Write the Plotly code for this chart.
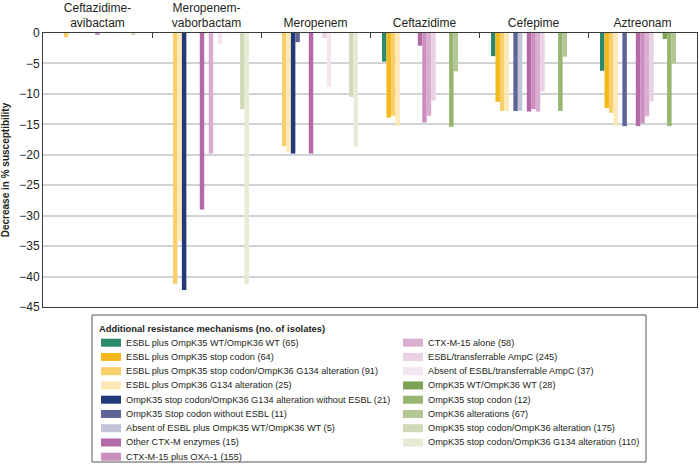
import plotly.graph_objects as go

# antibiotics along the top axis
antibiotics = ["Ceftazidime-<br>avibactam", "Meropenem-<br>vaborbactam", "Meropenem",
               "Ceftazidime", "Cefepime", "Aztreonam"]

# decrease in % susceptibility, one list per mechanism (antibiotic order as above)
esbl_wt = [0, 0, 0, -4.7, -3.8, -6.2]
esbl_k35_stop = [0, 0, 0, -13.9, -11.3, -12.3]
esbl_k35_stop_g134 = [-0.7, -41.2, -18.6, -13.6, -12.8, -13.1]
esbl_k36_g134 = [0, -34.2, -19.6, -15.3, -12.8, -15.3]
k35_stop_g134_no_esbl = [0, -42.2, -19.8, 0, 0, 0]
k35_stop_no_esbl = [0, 0, -1.5, 0, -12.8, -15.3]
no_esbl_wt = [0, 0, 0, 0, -12.8, 0]
other_ctxm = [0, -29.0, -19.8, -2.1, -12.9, -15.3]
ctxm15_oxa1 = [-0.2, 0, 0, -14.7, -12.5, -14.8]
ctxm15_alone = [0, -19.8, 0, -13.6, -12.9, -13.7]
esbl_ampc = [0, 0, -0.8, -11.1, -9.6, -11.2]
no_esbl_ampc = [0, -1.8, -8.8, 0, 0, 0]
k35_wt_k36_wt = [0, 0, 0, 0, 0, -1.0]
k35_stop = [0, 0, 0, -15.4, -12.8, -15.3]
k36_alt = [0, 0, 0, -6.3, -3.9, -5.0]
k35_stop_k36_alt = [-0.3, -12.5, -10.5, 0, 0, 0]
k35_stop_k36_g134 = [0, -41.3, -18.6, 0, 0, 0]

names = [
    "ESBL plus OmpK35 WT/OmpK36 WT (65)",
    "ESBL plus OmpK35 stop codon (64)",
    "ESBL plus OmpK35 stop codon/OmpK36 G134 alteration (91)",
    "ESBL plus OmpK36 G134 alteration (25)",
    "OmpK35 stop codon/OmpK36 G134 alteration without ESBL (21)",
    "OmpK35 Stop codon without ESBL (11)",
    "Absent of ESBL plus OmpK35 WT/OmpK36 WT (5)",
    "Other CTX-M enzymes (15)",
    "CTX-M-15 plus OXA-1 (155)",
    "CTX-M-15 alone (58)",
    "ESBL/transferrable AmpC (245)",
    "Absent of ESBL/transferrable AmpC (37)",
    "OmpK35 WT/OmpK36 WT (28)",
    "OmpK35 stop codon (12)",
    "OmpK36 alterations (67)",
    "OmpK35 stop codon/OmpK36 alteration (175)",
    "OmpK35 stop codon/OmpK36 G134 alteration (110)",
]
colors = ["#2b8a6c", "#f2b81c", "#f9cf6b", "#fde8b8", "#233a7a", "#5c6596", "#c2c5da",
          "#b46aa6", "#cc8dbf", "#d9aed0", "#ead0e3", "#f4e6f0",
          "#7fa356", "#97b56f", "#b3c694", "#d1dab8", "#e6ebd6"]
values = [esbl_wt, esbl_k35_stop, esbl_k35_stop_g134, esbl_k36_g134, k35_stop_g134_no_esbl,
          k35_stop_no_esbl, no_esbl_wt, other_ctxm, ctxm15_oxa1, ctxm15_alone, esbl_ampc,
          no_esbl_ampc, k35_wt_k36_wt, k35_stop, k36_alt, k35_stop_k36_alt, k35_stop_k36_g134]

FONT = "Liberation Sans, Arial, sans-serif"

fig = go.Figure()
for i, (name, color, vals) in enumerate(zip(names, colors, values)):
    # empty slot between the three families of mechanisms
    if i in (7, 12):
        fig.add_bar(x=antibiotics, y=[0] * len(antibiotics), marker_color="rgba(0,0,0,0)",
                    showlegend=False, hoverinfo="skip")
    fig.add_bar(x=antibiotics, y=vals, name=name, marker_color=color,
                marker_line_width=0, showlegend=False)

fig.update_layout(width=700, height=472, barmode="group", bargap=0.22, bargroupgap=0,
                  margin=dict(l=43, r=3, t=33, b=165),
                  plot_bgcolor="white", paper_bgcolor="white",
                  font=dict(family=FONT, size=12, color="#231f20"))
fig.update_xaxes(side="top", showline=True, linecolor="#3a3a3a", linewidth=1, mirror=True,
                 ticks="inside", tickson="boundaries", ticklen=5, tickcolor="#3a3a3a",
                 showgrid=False, tickfont=dict(size=12), automargin=False)
fig.update_yaxes(range=[-45, 0], tick0=0, dtick=5, showline=True, linecolor="#3a3a3a",
                 linewidth=1, mirror=True, showgrid=True, gridcolor="#cfd3d3", gridwidth=1.5,
                 zeroline=False, ticks="", tickfont=dict(size=12), automargin=False,
                 title=dict(text="<b>Decrease in % susceptibility</b>", font=dict(size=10),
                            standoff=8))

# hand-made two-column legend (column-major, tight rows like the original)
PL, PW, PB, PH = 43, 654, 307, 274


def px_x(v):
    return (v - PL) / PW


def px_y(v):
    return (PB - v) / PH


fig.add_shape(type="rect", xref="paper", yref="paper", x0=px_x(92), x1=px_x(646),
              y0=px_y(315), y1=px_y(462), line=dict(color="#555555", width=1))
fig.add_annotation(x=px_x(97), y=px_y(328), xref="paper", yref="paper", xanchor="left",
                   yanchor="middle", showarrow=False,
                   text="<b>Additional resistance mechanisms (no. of isolates)</b>",
                   font=dict(size=9.4, family=FONT))
for i, (name, color) in enumerate(zip(names, colors)):
    col, row = (0, i) if i < 9 else (1, i - 9)
    sx = 101 + 302 * col
    cy = 342.7 + 14.25 * row
    fig.add_shape(type="rect", xref="paper", yref="paper", x0=px_x(sx), x1=px_x(sx + 20),
                  y0=px_y(cy + 4), y1=px_y(cy - 4), fillcolor=color, line=dict(width=0))
    fig.add_annotation(x=px_x(sx + 23), y=px_y(cy), xref="paper", yref="paper",
                       xanchor="left", yanchor="middle", showarrow=False, text=name,
                       font=dict(size=9.2, family=FONT))

# page body has a default 8px margin; drop it so the figure fills the window
fig.write_html("out.html", config={"displayModeBar": False},
               post_script="document.body.style.margin = '0';")
